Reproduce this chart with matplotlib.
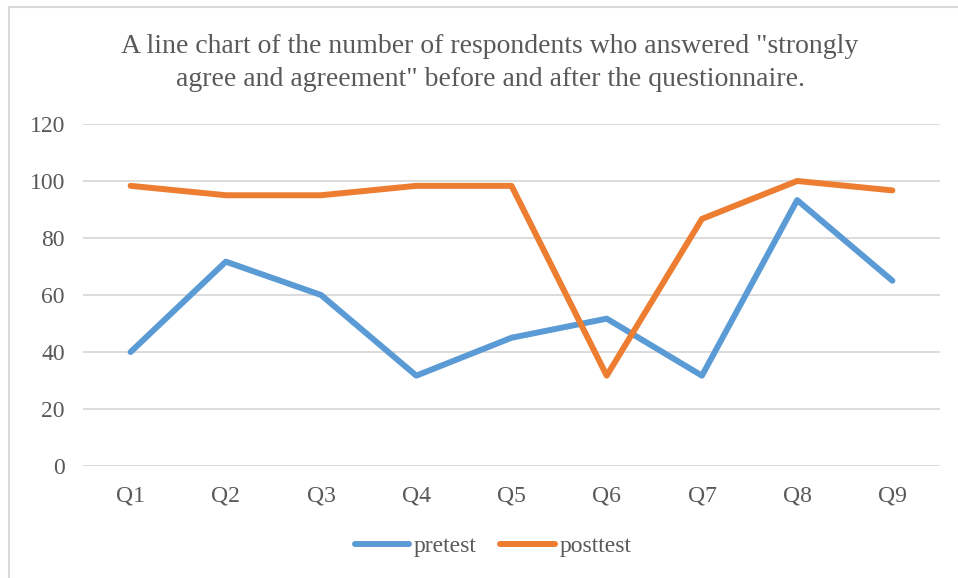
import matplotlib
matplotlib.use("Agg")
import matplotlib.pyplot as plt
from matplotlib.lines import Line2D

categories = ["Q1", "Q2", "Q3", "Q4", "Q5", "Q6", "Q7", "Q8", "Q9"]
pretest = [40.0, 71.7, 60.0, 31.7, 45.0, 51.7, 31.7, 93.3, 65.0]
posttest = [98.3, 95.0, 95.0, 98.3, 98.3, 31.7, 86.7, 100.0, 96.7]
yticks = [0, 20, 40, 60, 80, 100, 120]

title = ('A line chart of the number of respondents who answered "strongly\n'
         'agree and agreement" before and after the questionnaire.')

plt.rcParams["font.family"] = ["Liberation Serif", "DejaVu Serif"]
text_color = "#595959"
grid_color = "#d9d9d9"
blue = "#5B9BD5"
orange = "#ED7D31"

W, H = 958, 578
fig = plt.figure(figsize=(W / 100, H / 100), dpi=100)
ax = fig.add_axes([83 / W, 1 - 466 / H, (940 - 83) / W, (466 - 124) / H])

x = list(range(len(categories)))
ax.plot(x, pretest, color=blue, lw=4.3, solid_capstyle="round",
        solid_joinstyle="round", label="pretest", zorder=3)
ax.plot(x, posttest, color=orange, lw=4.3, solid_capstyle="round",
        solid_joinstyle="round", label="posttest", zorder=3)

ax.set_xlim(-0.5, len(categories) - 0.5)
ax.set_ylim(0, 120)
ax.set_yticks(yticks)
ax.set_xticks(x)
ax.set_xticklabels(categories)
ax.grid(axis="y", color=grid_color, lw=1.3, zorder=0)
ax.set_axisbelow(True)
for s in ax.spines.values():
    s.set_visible(False)
ax.tick_params(axis="both", length=0, labelsize=17, labelcolor=text_color)
ax.tick_params(axis="y", pad=13)
ax.tick_params(axis="x", pad=14)

fig.text(490 / W, 1 - 63 / H, title, ha="center", va="center",
         fontsize=20, color=text_color, linespacing=1.42)

handles = [Line2D([], [], color=blue, lw=4.3, solid_capstyle="round"),
           Line2D([], [], color=orange, lw=4.3, solid_capstyle="round")]
fig.legend(handles, ["pretest", "posttest"], loc="center",
           bbox_to_anchor=(493 / W, 1 - 546 / H), ncol=2, frameon=False,
           fontsize=17, labelcolor=text_color, handlelength=2.3,
           handletextpad=0.2, columnspacing=1.0)

# light frame around the chart area
border = "#d9d9d9"
fig.add_artist(Line2D([8.5 / W, 8.5 / W], [0, 1 - 6.5 / H], color=border,
                      lw=1.5, transform=fig.transFigure))
fig.add_artist(Line2D([8.5 / W, 1], [1 - 6.5 / H, 1 - 6.5 / H], color=border,
                      lw=1.5, transform=fig.transFigure))

fig.savefig("out.png", dpi=100, facecolor="white")
